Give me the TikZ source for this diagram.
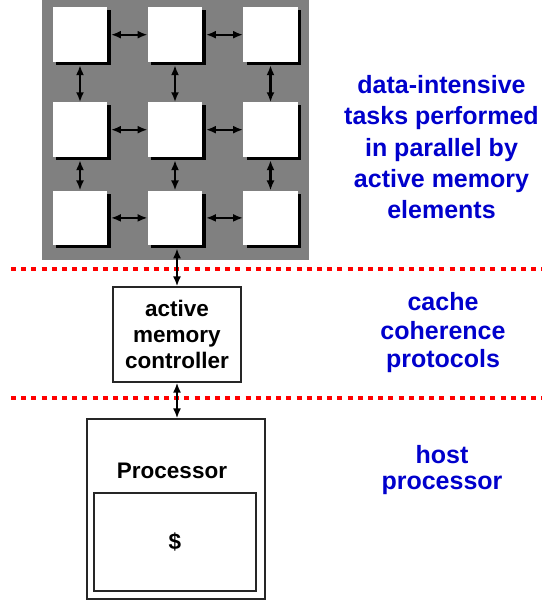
\documentclass[tikz,border=0pt]{standalone}
\usepackage{fontspec}
\setmainfont{Liberation Sans}
\usetikzlibrary{arrows.meta}
\usetikzlibrary{calc}
\definecolor{noteblue}{RGB}{0,0,204}

\begin{document}
\begin{tikzpicture}[x=1pt,y=-1pt,
  cell/.style={fill=white,minimum size=54.5pt,inner sep=0pt,
    preaction={fill=black,transform canvas={shift={(3.5pt,-3pt)}}}},
  link/.style={line width=2.3pt,
    {Latex[length=10pt,width=8pt]}-{Latex[length=10pt,width=8pt]}},
  plainbox/.style={draw=black!85,line width=1.2pt,inner sep=0pt},
  boundary/.style={draw=red,line width=3.5pt,dash pattern=on 5pt off 5.2pt},
  blacktext/.style={font=\bfseries\fontsize{22.5}{26}\selectfont,align=center},
  note/.style={text=noteblue,align=center,inner sep=0pt,anchor=north}]
  \useasboundingbox (0,0) rectangle (542,600);
  % array of active memory elements
  \fill[gray] (42,0) rectangle (309,260);
  \node[cell] (c11) at (80,34.7) {};
  \node[cell] (c12) at (175,34.7) {};
  \node[cell] (c13) at (270.5,34.7) {};
  \node[cell] (c21) at (80,129.7) {};
  \node[cell] (c22) at (175,129.7) {};
  \node[cell] (c23) at (270.5,129.7) {};
  \node[cell] (c31) at (80,217.9) {};
  \node[cell] (c32) at (175,217.9) {};
  \node[cell] (c33) at (270.5,217.9) {};
  \draw[link] ([xshift=3.5pt]c11.east) -- (c12.west);
  \draw[link] ([xshift=3.5pt]c12.east) -- (c13.west);
  \draw[link] ([xshift=3.5pt]c21.east) -- (c22.west);
  \draw[link] ([xshift=3.5pt]c22.east) -- (c23.west);
  \draw[link] ([xshift=3.5pt]c31.east) -- (c32.west);
  \draw[link] ([xshift=3.5pt]c32.east) -- (c33.west);
  \draw[link] ([yshift=-3pt]c11.south) -- (c21.north);
  \draw[link] ([yshift=-3pt]c12.south) -- (c22.north);
  \draw[link] ([yshift=-3pt]c13.south) -- (c23.north);
  \draw[link] ([yshift=-3pt]c21.south) -- (c31.north);
  \draw[link] ([yshift=-3pt]c22.south) -- (c32.north);
  \draw[link] ([yshift=-3pt]c23.south) -- (c33.north);
  % boundaries
  \draw[boundary] (11,269) -- (542,269);
  \draw[boundary] (11,398) -- (542,398);
  % controller and host
  \node[plainbox,blacktext,minimum width=128pt,minimum height=95pt]
    (ctrl) at (177,334.5) {active\\memory\\controller};
  \node[plainbox,minimum width=178pt,minimum height=180pt] (proc) at (176,509) {};
  \node[blacktext,anchor=base] (ptitle) at (172,478) {Processor};
  \node[plainbox,blacktext,minimum width=162pt,minimum height=98pt]
    (cache) at (175,542) {\$};
  \draw[link]
    ($(ctrl.north |- c32.south)+(0,3)$) -- (ctrl.north);
  \draw[link]
    (ctrl.south) -- (ctrl.south |- proc.north);
  % notes
  \node[note,font=\bfseries\fontsize{25}{31.3}\selectfont] (tasks) at (441.5,75.1)
    {data-intensive\\tasks performed\\in parallel by\\active memory\\elements};
  \node[note,font=\bfseries\fontsize{25}{28.5}\selectfont] (protocols) at (443,292.5)
    {cache\\coherence\\protocols};
  \node[note,font=\bfseries\fontsize{25}{26}\selectfont] (host) at (442,444.8)
    {host\\processor};
\end{tikzpicture}
\end{document}
